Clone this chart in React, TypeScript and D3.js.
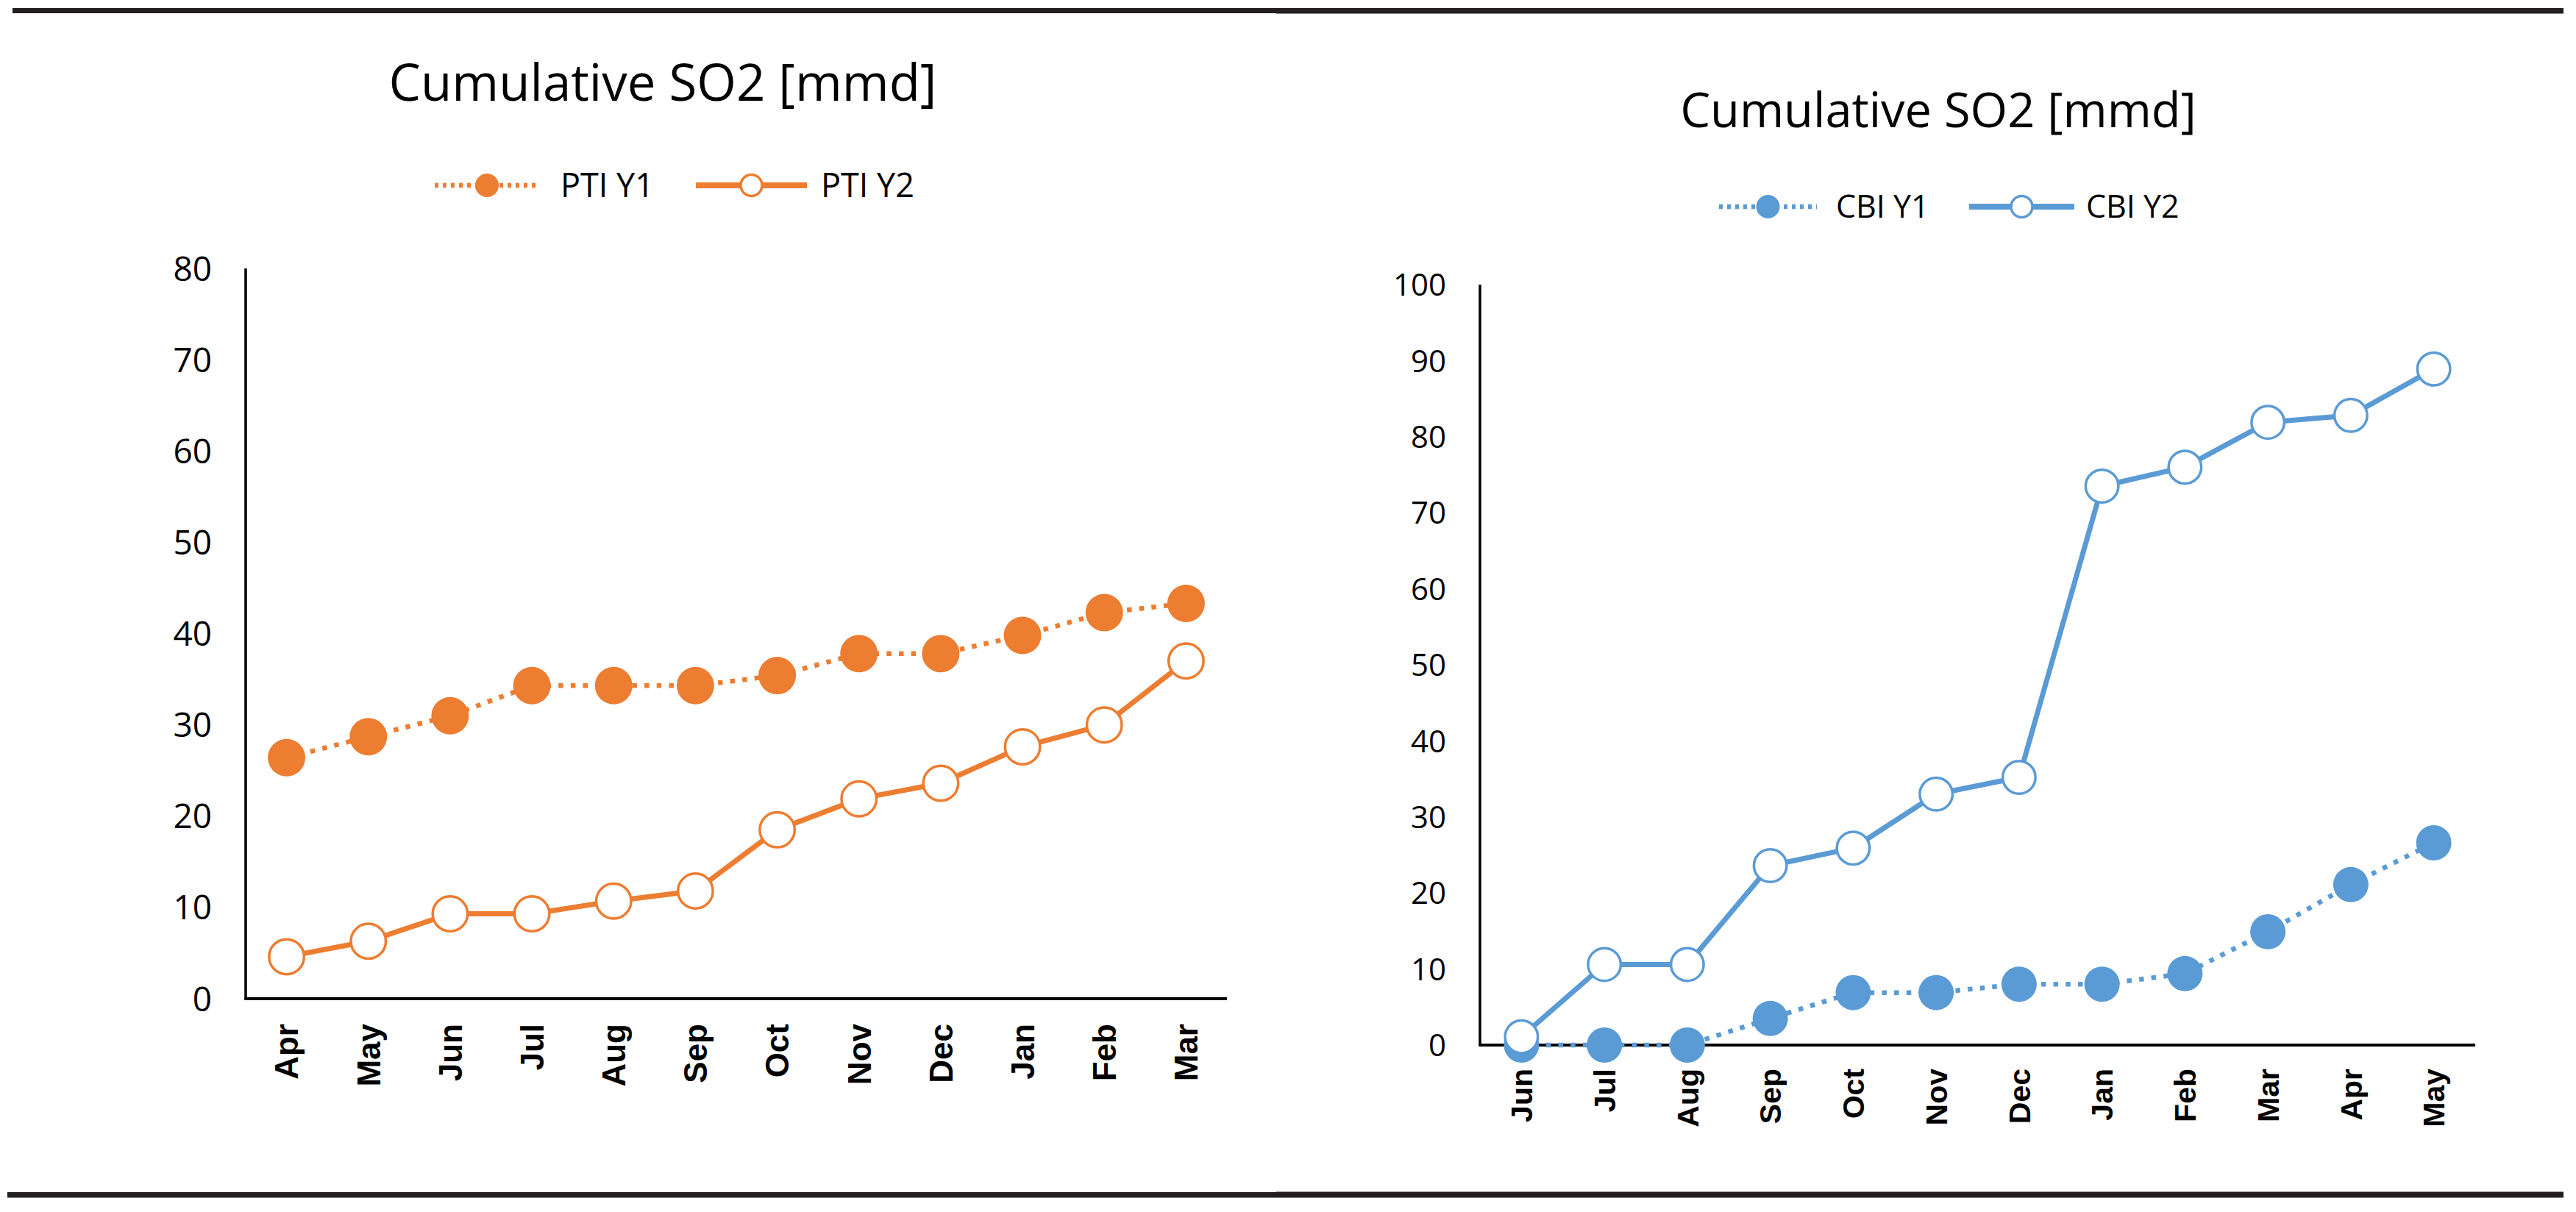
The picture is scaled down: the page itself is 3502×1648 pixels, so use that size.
import React from "react";
import * as d3 from "d3";

// ---- data ----
const ptiMonths = ["Apr", "May", "Jun", "Jul", "Aug", "Sep", "Oct", "Nov", "Dec", "Jan", "Feb", "Mar"];
const ptiY1 = [26.4, 28.7, 31.0, 34.3, 34.3, 34.3, 35.4, 37.8, 37.8, 39.8, 42.3, 43.3];
const ptiY2 = [4.6, 6.3, 9.3, 9.3, 10.7, 11.8, 18.5, 21.9, 23.6, 27.6, 30.0, 37.0];
const ptiTicks = [0, 10, 20, 30, 40, 50, 60, 70, 80];

const cbiMonths = ["Jun", "Jul", "Aug", "Sep", "Oct", "Nov", "Dec", "Jan", "Feb", "Mar", "Apr", "May"];
const cbiY1 = [0, 0, 0, 3.5, 6.9, 6.9, 8.0, 8.0, 9.4, 14.9, 21.1, 26.6];
const cbiY2 = [1.1, 10.6, 10.6, 23.6, 25.9, 33.0, 35.2, 73.5, 76.0, 81.9, 82.8, 88.9];
const cbiTicks = [0, 10, 20, 30, 40, 50, 60, 70, 80, 90, 100];

const titleText = "Cumulative SO2 [mmd]";
const ptiNames = ["PTI Y1", "PTI Y2"];
const cbiNames = ["CBI Y1", "CBI Y2"];

const ORANGE = "#ED7D31";
const BLUE = "#5B9BD5";
const RULE = "#231F20";
const NUM_FONT = "'Open Sans', 'Noto Sans', sans-serif";
const CAT_FONT = "'Liberation Sans', Arial, sans-serif";

type ChartProps = {
  months: string[];
  y1: number[];
  y2: number[];
  ticks: number[];
  names: string[];
  color: string;
  x0: number;
  x1: number;
  yTop: number;
  yBottom: number;
  titleX: number;
  titleY: number;
  titleSize: number;
  legendY: number;
  legendFont: number;
  leg1: [number, number, number];
  leg2: [number, number, number];
  tickFont: number;
  tickRight: number;
  catFont: number;
  catGap: number;
  markerR: number;
};

function Chart(p: ChartProps) {
  const yMax = p.ticks[p.ticks.length - 1];
  const x = d3.scalePoint<string>().domain(p.months).range([p.x0, p.x1]).padding(0.5);
  const y = d3.scaleLinear().domain([0, yMax]).range([p.yBottom, p.yTop]);
  const line = d3
    .line<number>()
    .x((_, i) => x(p.months[i]) as number)
    .y((d) => y(d));
  const dot = "6.5 10.2";
  return (
    <g>
      <text
        x={p.titleX}
        y={p.titleY}
        textAnchor="middle"
        fontFamily={NUM_FONT}
        fontSize={p.titleSize}
        fill="#000"
      >
        {titleText}
      </text>
      {/* legend */}
      <g>
        <line x1={p.leg1[0]} x2={p.leg1[1]} y1={p.legendY} y2={p.legendY} stroke={p.color} strokeWidth={6.5} strokeDasharray="5 6" />
        <circle cx={(p.leg1[0] + p.leg1[1]) / 2} cy={p.legendY} r={16} fill={p.color} />
        <text x={p.leg1[2]} y={p.legendY} dy="0.35em" fontFamily={NUM_FONT} fontSize={p.legendFont} fill="#000">
          {p.names[0]}
        </text>
        <line x1={p.leg2[0]} x2={p.leg2[1]} y1={p.legendY} y2={p.legendY} stroke={p.color} strokeWidth={8} />
        <circle cx={(p.leg2[0] + p.leg2[1]) / 2} cy={p.legendY} r={14.5} fill="#fff" stroke={p.color} strokeWidth={3.5} />
        <text x={p.leg2[2]} y={p.legendY} dy="0.35em" fontFamily={NUM_FONT} fontSize={p.legendFont} fill="#000">
          {p.names[1]}
        </text>
      </g>
      {/* y tick labels */}
      {p.ticks.map((t) => (
        <text
          key={"yt" + t}
          x={p.tickRight}
          y={y(t)}
          dy="0.36em"
          textAnchor="end"
          fontFamily={NUM_FONT}
          fontSize={p.tickFont}
          fill="#000"
        >
          {t}
        </text>
      ))}
      {/* x category labels */}
      {p.months.map((m) => (
        <text
          key={"xt" + m}
          transform={`translate(${x(m)},${p.yBottom + p.catGap}) rotate(-90)`}
          dy="0.36em"
          textAnchor="end"
          fontFamily={CAT_FONT}
          fontWeight="bold"
          fontSize={p.catFont}
          fill="#000"
        >
          {m}
        </text>
      ))}
      {/* axes */}
      <line x1={p.x0} x2={p.x0} y1={y(yMax)} y2={p.yBottom} stroke="#000" strokeWidth={3.5} />
      <line x1={p.x0 - 1.75} x2={p.x1} y1={p.yBottom} y2={p.yBottom} stroke="#000" strokeWidth={4} />
      {/* series 1: dotted with filled markers */}
      <path d={line(p.y1) || ""} fill="none" stroke={p.color} strokeWidth={6.5} strokeDasharray={dot} />
      {p.y1.map((v, i) => (
        <circle key={"a" + i} cx={x(p.months[i]) as number} cy={y(v)} r={p.markerR} fill={p.color} />
      ))}
      {/* series 2: solid with open markers */}
      <path d={line(p.y2) || ""} fill="none" stroke={p.color} strokeWidth={7} strokeLinejoin="round" />
      {p.y2.map((v, i) => (
        <circle
          key={"b" + i}
          cx={x(p.months[i]) as number}
          cy={y(v)}
          r={p.markerR - 1.75}
          fill="#fff"
          stroke={p.color}
          strokeWidth={3.5}
        />
      ))}
    </g>
  );
}

export default function App() {
  return (
    <div style={{ position: "absolute", left: 0, top: 0 }}>
      <svg width={3502} height={1648} viewBox="0 0 3502 1648" style={{ display: "block", background: "#fff" }}>
        <rect x={0} y={0} width={3502} height={1648} fill="#fff" />
        {/* rules */}
        <rect x={17} y={11} width={1718} height={7} fill={RULE} />
        <rect x={1735} y={11} width={1750} height={7.5} fill={RULE} />
        <rect x={10} y={1621} width={1725} height={7.5} fill={RULE} />
        <rect x={1735} y={1620.5} width={1750} height={8} fill={RULE} />
        <Chart
          months={ptiMonths}
          y1={ptiY1}
          y2={ptiY2}
          ticks={ptiTicks}
          names={ptiNames}
          color={ORANGE}
          x0={334}
          x1={1668}
          yTop={365}
          yBottom={1358}
          titleX={901}
          titleY={137}
          titleSize={69}
          legendY={252}
          legendFont={45}
          leg1={[591, 733, 762]}
          leg2={[946, 1097, 1116]}
          tickFont={46}
          tickRight={288}
          catFont={44}
          catGap={34}
          markerR={25.5}
        />
        <Chart
          months={cbiMonths}
          y1={cbiY1}
          y2={cbiY2}
          ticks={cbiTicks}
          names={cbiNames}
          color={BLUE}
          x0={2012}
          x1={3365}
          yTop={387}
          yBottom={1421}
          titleX={2635}
          titleY={173}
          titleSize={65}
          legendY={281}
          legendFont={43}
          leg1={[2337, 2470, 2496]}
          leg2={[2677, 2820, 2836]}
          tickFont={42}
          tickRight={1966}
          catFont={41}
          catGap={32}
          markerR={24}
        />
      </svg>
    </div>
  );
}
